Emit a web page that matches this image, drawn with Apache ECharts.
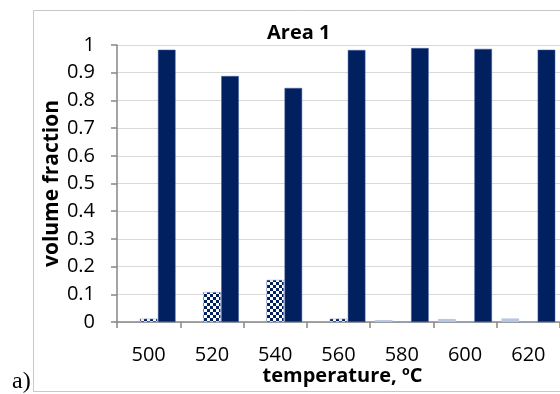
<!DOCTYPE html>
<html>
<head>
<meta charset="utf-8">
<script src="https://cdn.jsdelivr.net/npm/echarts@6/dist/echarts.min.js"></script>
<style>
html,body{margin:0;padding:0;background:#fff;}
#chart{width:560px;height:394px;}
</style>
</head>
<body>
<div id="chart"></div>
<script>
// ---- data ----
var categories = ['500', '520', '540', '560', '580', '600', '620'];
var seriesLight = [0, 0, 0, 0, 0.007, 0.011, 0.013];
var seriesChecker = [0.012, 0.108, 0.152, 0.012, 0, 0, 0];
var seriesDark = [0.983, 0.888, 0.845, 0.982, 0.989, 0.986, 0.983];
var yTicks = { min: 0, max: 1, interval: 0.1 };
var titleText = 'Area 1';
var xName = 'temperature, \u00baC';
var yName = 'volume fraction';

// checker pattern
var pc = document.createElement('canvas');
pc.width = 6; pc.height = 6;
var ctx = pc.getContext('2d');
ctx.fillStyle = '#ffffff'; ctx.fillRect(0, 0, 6, 6);
ctx.fillStyle = '#002060';
ctx.fillRect(0, 0, 3, 3); ctx.fillRect(3, 3, 3, 3);

var chart = echarts.init(document.getElementById('chart'), null, { renderer: 'canvas' });
var font = '"Open Sans", sans-serif';
chart.setOption({
  animation: false,
  backgroundColor: '#ffffff',
  title: {
    text: titleText, left: 262, top: 18,
    textStyle: { fontFamily: font, fontSize: 20, fontWeight: 'bold', color: '#000' }
  },
  graphic: [
    { type: 'rect', shape: { x: 33.5, y: 10.5, width: 600, height: 381 },
      style: { fill: null, stroke: '#c8c8c8', lineWidth: 1 }, z: -1 },
    { type: 'text', left: 12, top: 370,
      style: { text: 'a)', font: '24px "Liberation Serif", serif', fill: '#000' } }
  ],
  grid: { left: 117, right: -3, top: 45, bottom: 72, containLabel: false },
  xAxis: {
    type: 'category', data: categories,
    name: xName, nameLocation: 'middle', nameGap: 44, nameMoveOverlap: false,
    nameTextStyle: { fontFamily: font, fontSize: 20, fontWeight: 'bold', color: '#000', padding: [0, 0, 0, 8] },
    axisLine: { lineStyle: { color: '#868686', width: 1.5 } },
    axisTick: { show: true, alignWithLabel: false, length: 6, lineStyle: { color: '#868686', width: 1.5 } },
    axisLabel: { fontFamily: font, fontSize: 20, color: '#000', margin: 23 },
    splitLine: { show: false }
  },
  yAxis: {
    type: 'value', min: yTicks.min, max: yTicks.max, interval: yTicks.interval,
    name: yName, nameLocation: 'middle', nameGap: 54, nameRotate: 90, nameMoveOverlap: false,
    nameTextStyle: { fontFamily: font, fontSize: 21, fontWeight: 'bold', color: '#000' },
    axisLine: { show: true, lineStyle: { color: '#868686', width: 1.5 } },
    axisTick: { show: true, length: 6, lineStyle: { color: '#868686', width: 1.5 } },
    axisLabel: { fontFamily: font, fontSize: 20, color: '#000', margin: 22,
      formatter: function (v) { return String(Math.round(v * 10) / 10); } },
    splitLine: { show: true, lineStyle: { color: '#d9d9d9', width: 1 } }
  },
  series: [
    { type: 'bar', name: 'light', data: seriesLight, barGap: '3%', barCategoryGap: '15%',
      itemStyle: { color: '#b4c7e7' } },
    { type: 'bar', name: 'checker', data: seriesChecker, barGap: '3%', barCategoryGap: '15%',
      itemStyle: { color: { image: pc, repeat: 'repeat' }, borderColor: '#8da0c8', borderWidth: 0.5 } },
    { type: 'bar', name: 'dark', data: seriesDark, barGap: '3%', barCategoryGap: '15%',
      itemStyle: { color: '#002060', borderColor: '#4a63a0', borderWidth: 0.5 } }
  ]
});
</script>
</body>
</html>
